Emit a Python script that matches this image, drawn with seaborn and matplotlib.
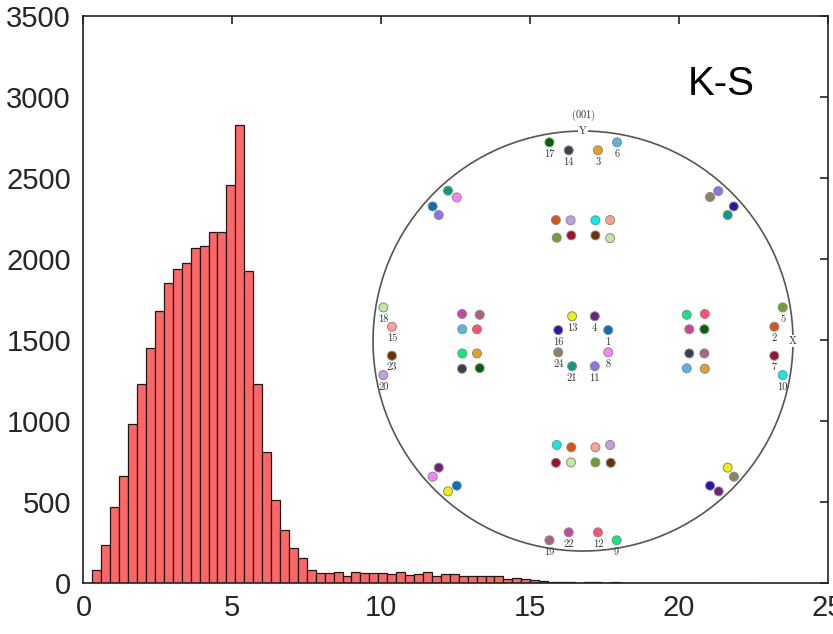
import numpy as np
import pandas as pd
import matplotlib
matplotlib.use("Agg")
import matplotlib.pyplot as plt
from matplotlib.patches import Circle
import seaborn as sns

# histogram of misorientation (bins of 0.3)
bin_width = 0.3
counts = [0, 80, 238, 468, 665, 985, 1230, 1453, 1680, 1852,
          1943, 1978, 2069, 2081, 2172, 2168, 2457, 2831, 1926, 1228,
          812, 515, 329, 215, 157, 80, 62, 62, 69, 42,
          70, 62, 66, 62, 55, 68, 54, 58, 70, 46,
          58, 58, 46, 48, 46, 44, 42, 29, 33, 29,
          22, 17, 10, 8, 8, 3, 6, 8, 3, 5,
          4, 2, 2, 3, 3, 1, 1, 0, 0, 0,
          0, 0, 0, 0, 3]
x_ticks = [0, 5, 10, 15, 20, 25]
y_ticks = [0, 500, 1000, 1500, 2000, 2500, 3000, 3500]

# K-S variants, {001} pole figure (unit circle coords)
variant_colors = ["#0070c0", "#e05010", "#e8a020", "#702080", "#70a030", "#50b8e8",
                  "#a01030", "#ff80ff", "#00f080", "#00f0f0", "#9070f0", "#ff5070",
                  "#f0f000", "#3a4050", "#ffa090", "#3010b0", "#006400", "#c0e8a0",
                  "#b06080", "#c0a0e0", "#00a088", "#d040a0", "#703000", "#908060"]
label_u = [0.120, 0.911, 0.071, 0.056, 0.951, 0.162, 0.911, 0.120, 0.160, 0.951, 0.056, 0.071,
           -0.052, -0.068, -0.910, -0.118, -0.160, -0.951, -0.160, -0.951, -0.052, -0.068, -0.910, -0.118]
label_v = [0.052, 0.068, 0.908, 0.118, 0.160, 0.946, -0.070, -0.054, -0.949, -0.162, -0.120, -0.911,
           0.118, 0.908, 0.068, 0.052, 0.946, 0.160, -0.949, -0.162, -0.120, -0.911, -0.070, -0.054]
other_variant = [21, 8, 1, 11, 11, 24, 16, 21,
                 4, 8, 1, 13, 13, 24, 16, 4,
                 2, 20, 10, 15, 5, 7, 23, 18,
                 10, 2, 15, 20, 7, 18, 5, 23,
                 22, 19, 6, 12, 9, 3, 14, 17,
                 9, 12, 22, 17, 14, 19, 6, 3]
other_u = [-0.643, -0.601, -0.716, -0.687, 0.644, 0.605, 0.718, 0.689,
           -0.687, -0.716, -0.601, -0.643, 0.689, 0.719, 0.605, 0.646,
           -0.129, -0.059, 0.059, 0.129, -0.125, -0.056, 0.059, 0.129,
           -0.125, -0.056, 0.059, 0.129, -0.129, -0.057, 0.059, 0.132,
           -0.576, -0.492, -0.575, -0.505, -0.575, -0.505, -0.576, -0.492,
           0.494, 0.580, 0.506, 0.578, 0.506, 0.578, 0.494, 0.580]
other_v = [0.716, 0.684, 0.641, 0.600, 0.714, 0.686, 0.641, 0.600,
           -0.603, -0.646, -0.689, -0.716, -0.603, -0.646, -0.689, -0.716,
           0.576, 0.575, 0.575, 0.576, 0.492, 0.503, 0.503, 0.490,
           -0.495, -0.506, -0.506, -0.495, -0.580, -0.578, -0.578, -0.580,
           0.129, 0.125, 0.056, 0.056, -0.059, -0.059, -0.132, -0.129,
           0.125, 0.129, 0.056, 0.056, -0.059, -0.059, -0.130, -0.132]

sns.set_style("white")
plt.rcParams["font.family"] = ["Liberation Sans", "DejaVu Sans"]
plt.rcParams["mathtext.fontset"] = "cm"

fig = plt.figure(figsize=(8.33, 6.34), dpi=100)
ax = fig.add_axes([0.1002, 0.080, 0.8938, 0.894])

n_bins = len(counts)
hist_df = pd.DataFrame({"angle": (np.arange(n_bins) + 0.5) * bin_width,
                        "count": counts})
sns.histplot(data=hist_df, x="angle", weights="count", binwidth=bin_width,
             binrange=(0, n_bins * bin_width), color="#ff6666",
             edgecolor="#1a1a1a", linewidth=0.9, alpha=1, ax=ax)

ax.set_xlim(0, 25)
ax.set_ylim(0, 3500)
ax.set_xticks(x_ticks)
ax.set_yticks(y_ticks)
ax.set_xlabel("")
ax.set_ylabel("")
for s in ax.spines.values():
    s.set_visible(True)
    s.set_color("#222222")
    s.set_linewidth(1.2)
ax.tick_params(direction="in", length=6, width=1.2, color="#222222",
               labelsize=21, labelcolor="#262626", top=True, right=True)
ax.tick_params(axis="y", pad=9)
ax.tick_params(axis="x", pad=8)
ax.text(0.857, 0.881, "K-S", transform=ax.transAxes, fontsize=29,
        ha="center", va="center", color="black")

# inset pole figure
r = 1.15
pax = fig.add_axes([0.41, 0.0812, 0.5798, 0.7618])
pax.set_xlim(-r, r)
pax.set_ylim(-r, r)
pax.set_aspect("equal")
pax.axis("off")
pax.patch.set_alpha(0)
pax.add_patch(Circle((0, 0), 1.0, fill=False, edgecolor="#555555", lw=1.2))

pole_df = pd.DataFrame({
    "u": list(label_u) + list(other_u),
    "v": list(label_v) + list(other_v),
    "variant": list(range(1, 25)) + list(other_variant),
})
palette = {i + 1: c for i, c in enumerate(variant_colors)}
sns.scatterplot(data=pole_df, x="u", y="v", hue="variant", palette=palette, s=42,
                edgecolor="#8a8a8a", linewidth=0.7, legend=False, ax=pax, zorder=3)
pax.set_xlabel("")
pax.set_ylabel("")

for i, (u, v) in enumerate(zip(label_u, label_v)):
    pax.text(u, v - 0.056, str(i + 1), fontsize=7.5, family="cmr10",
             ha="center", va="center", color="#333333")

pax.text(0, 1.0, "Y", fontsize=7.5, family="cmr10", ha="center", va="center",
         color="#333333", bbox=dict(fc="white", ec="none", pad=0.6), zorder=4)
pax.text(1.0, 0.0, "X", fontsize=7.5, family="cmr10", ha="center", va="center",
         color="#333333", bbox=dict(fc="white", ec="none", pad=0.6), zorder=4)
pax.text(0, 1.076, r"$(\mathbf{001})$", fontsize=7.5, ha="center", va="center",
         color="#333333")

fig.savefig("out.png", dpi=100)
